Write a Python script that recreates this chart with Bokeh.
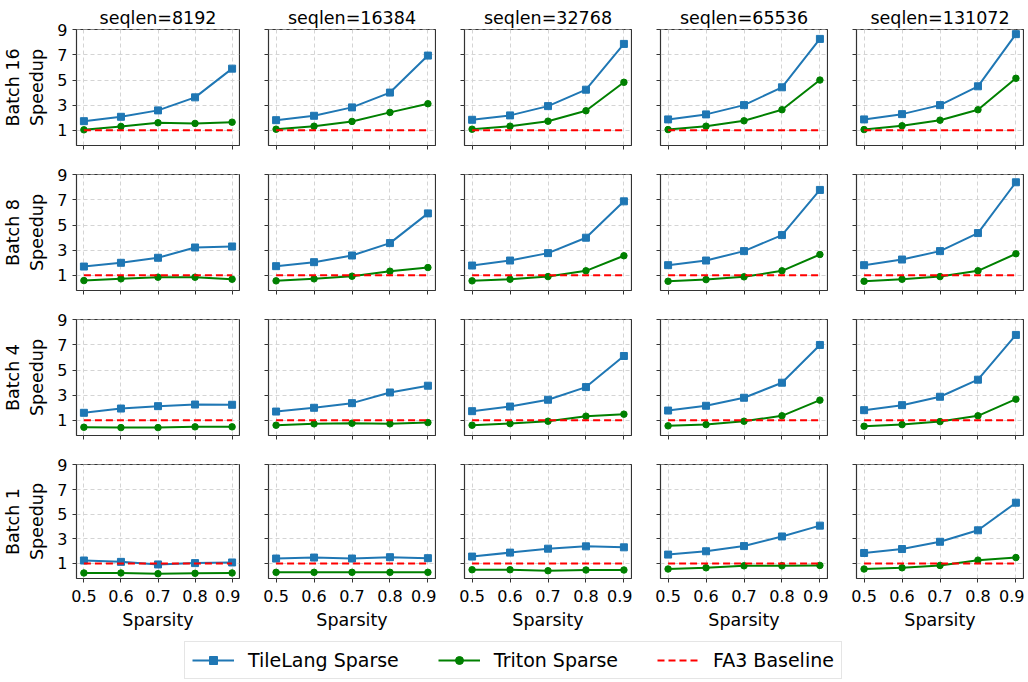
from bokeh.plotting import figure
from bokeh.layouts import column, row
from bokeh.models import (FixedTicker, CustomJSTickFormatter, Range1d, Legend,
                          LegendItem, ColumnDataSource)
from bokeh.embed import file_html
from bokeh.resources import INLINE

# ---------------- data ----------------
sparsity = [0.5, 0.6, 0.7, 0.8, 0.9]
seqlens = [8192, 16384, 32768, 65536, 131072]
batches = [16, 8, 4, 1]
fa3_baseline = [1.0, 1.0, 1.0, 1.0, 1.0]

# one list per seqlen (8192 ... 131072)
tilelang_b16 = [[1.72, 2.07, 2.58, 3.62, 5.91], [1.80, 2.15, 2.82, 4.00, 6.95],
                [1.83, 2.18, 2.92, 4.23, 7.88], [1.86, 2.26, 3.00, 4.42, 8.28],
                [1.86, 2.28, 3.00, 4.50, 8.66]]
triton_b16 = [[1.03, 1.30, 1.59, 1.54, 1.64], [1.08, 1.32, 1.70, 2.42, 3.11],
              [1.08, 1.32, 1.72, 2.55, 4.82], [1.05, 1.32, 1.75, 2.63, 5.00],
              [1.05, 1.35, 1.80, 2.63, 5.14]]
tilelang_b8 = [[1.69, 1.99, 2.39, 3.21, 3.29], [1.72, 2.04, 2.57, 3.56, 5.93],
               [1.77, 2.17, 2.76, 3.99, 6.89], [1.80, 2.17, 2.92, 4.20, 7.80],
               [1.80, 2.25, 2.92, 4.36, 8.41]]
triton_b8 = [[0.57, 0.71, 0.84, 0.84, 0.68], [0.55, 0.71, 0.92, 1.32, 1.61],
             [0.55, 0.68, 0.89, 1.35, 2.55], [0.52, 0.65, 0.87, 1.35, 2.65],
             [0.52, 0.68, 0.89, 1.35, 2.71]]
tilelang_b4 = [[1.59, 1.93, 2.12, 2.25, 2.23], [1.69, 1.99, 2.36, 3.21, 3.75],
               [1.72, 2.09, 2.63, 3.64, 6.12], [1.77, 2.15, 2.79, 3.99, 7.00],
               [1.80, 2.20, 2.87, 4.23, 7.80]]
triton_b4 = [[0.44, 0.41, 0.41, 0.47, 0.47], [0.60, 0.71, 0.76, 0.71, 0.81],
             [0.60, 0.73, 0.92, 1.32, 1.48], [0.55, 0.65, 0.92, 1.35, 2.60],
             [0.52, 0.65, 0.89, 1.35, 2.68]]
tilelang_b1 = [[1.24, 1.13, 0.92, 1.03, 1.08], [1.40, 1.48, 1.40, 1.51, 1.43],
               [1.56, 1.88, 2.20, 2.39, 2.31], [1.72, 1.99, 2.41, 3.19, 4.07],
               [1.85, 2.17, 2.76, 3.69, 5.93]]
triton_b1 = [[0.23, 0.23, 0.17, 0.20, 0.23], [0.28, 0.28, 0.28, 0.28, 0.28],
             [0.49, 0.49, 0.41, 0.47, 0.47], [0.55, 0.65, 0.81, 0.81, 0.84],
             [0.55, 0.65, 0.84, 1.27, 1.48]]

tilelang_by_batch = [tilelang_b16, tilelang_b8, tilelang_b4, tilelang_b1]
triton_by_batch = [triton_b16, triton_b8, triton_b4, triton_b1]

series_names = ["TileLang Sparse", "Triton Sparse", "FA3 Baseline"]
y_ticks = [1, 3, 5, 7, 9]

# ---------------- style ----------------
FONT = "DejaVu Sans"
BLUE = "#1f77b4"
GREEN = "#008000"
RED = "#ff0000"
FRAME = "#333333"

blank = CustomJSTickFormatter(code="return '';")

rows = []
for r, b in enumerate(batches):
    figs = []
    for c, s in enumerate(seqlens):
        first_col = c == 0
        first_row = r == 0
        last_row = r == len(batches) - 1
        left = 72 if first_col else 28
        width = left + 167 + 1
        top = 29 if first_row else 9
        bottom = 52 if last_row else 20
        height = top + 116 + bottom
        kw = {}
        if first_row:
            kw["title"] = f"seqlen={s}"
        p = figure(width=width, height=height,
                   x_range=Range1d(0.48, 0.92), y_range=Range1d(-0.22, 9.03),
                   output_backend="svg", toolbar_location=None,
                   min_border_left=left, min_border_right=1,
                   min_border_top=top, min_border_bottom=bottom, **kw)
        if first_row:
            p.title.align = "center"
            p.title.text_font = FONT
            p.title.text_font_size = "17.5px"
            p.title.text_font_style = "normal"
            p.title.text_color = "black"
            p.title.standoff = 4
        p.background_fill_color = "white"
        p.border_fill_color = "white"
        p.outline_line_color = FRAME
        p.outline_line_width = 1.2

        p.xaxis.ticker = FixedTicker(ticks=sparsity)
        p.yaxis.ticker = FixedTicker(ticks=y_ticks)
        for ax in (p.xaxis[0], p.yaxis[0]):
            ax.axis_line_color = None
            ax.major_tick_line_color = FRAME
            ax.major_tick_out = 4
            ax.major_tick_in = 0
            ax.minor_tick_line_color = None
            ax.major_label_text_font = FONT
            ax.major_label_text_font_size = "16px"
            ax.major_label_text_color = "black"
            ax.major_label_standoff = 5
            ax.axis_label_text_font = FONT
            ax.axis_label_text_font_size = "17.5px"
            ax.axis_label_text_font_style = "normal"
            ax.axis_label_text_color = "black"
        if not first_col:
            p.yaxis.formatter = blank
        else:
            p.yaxis.axis_label = f"Batch {b}\nSpeedup"
            p.yaxis.axis_label_standoff = 7
        if not last_row:
            p.xaxis.formatter = blank
        else:
            p.xaxis.axis_label = "Sparsity"
            p.xaxis.major_label_standoff = 7
            p.xaxis.axis_label_standoff = 5

        p.grid.grid_line_color = "#d4d4d4"
        p.grid.grid_line_dash = "4 3"
        p.grid.grid_line_width = 1

        src = ColumnDataSource(dict(x=sparsity,
                                    tl=tilelang_by_batch[r][c],
                                    tr=triton_by_batch[r][c],
                                    fa=fa3_baseline))
        p.line("x", "tl", source=src, line_color=BLUE, line_width=2)
        p.scatter("x", "tl", source=src, marker="square", size=7,
                  fill_color=BLUE, line_color=BLUE)
        p.line("x", "tr", source=src, line_color=GREEN, line_width=2)
        p.scatter("x", "tr", source=src, marker="circle", size=6.5,
                  fill_color=GREEN, line_color=GREEN)
        p.line("x", "fa", source=src, line_color=RED, line_width=2,
               line_dash="7 4")
        figs.append(p)
    rows.append(row(*figs, spacing=0))

# ---------------- legend ----------------
lf = figure(width=1028, height=50, x_range=Range1d(0, 1), y_range=Range1d(0, 1),
            output_backend="svg", toolbar_location=None,
            min_border_left=0, min_border_right=0, min_border_top=0,
            min_border_bottom=0)
lf.axis.visible = False
lf.grid.visible = False
lf.outline_line_color = None
nan = float("nan")
hidden = ColumnDataSource(dict(x=[nan], y=[nan]))
l1 = lf.line("x", "y", source=hidden, line_color=BLUE, line_width=2)
m1 = lf.scatter("x", "y", source=hidden, marker="square", size=6,
                fill_color=BLUE, line_color=BLUE)
l2 = lf.line("x", "y", source=hidden, line_color=GREEN, line_width=2)
m2 = lf.scatter("x", "y", source=hidden, marker="circle", size=5,
                fill_color=GREEN, line_color=GREEN)
l3 = lf.line("x", "y", source=hidden, line_color=RED, line_width=2,
             line_dash="7 4")
legend = Legend(items=[LegendItem(label=series_names[0], renderers=[l1, m1]),
                       LegendItem(label=series_names[1], renderers=[l2, m2]),
                       LegendItem(label=series_names[2], renderers=[l3])],
                orientation="horizontal", location=(184, 3),
                glyph_width=42, glyph_height=20, label_height=20,
                label_standoff=14, spacing=39, padding=7, margin=0,
                label_text_font=FONT, label_text_font_size="19px",
                label_text_color="black",
                border_line_color="#cccccc", border_line_width=1,
                background_fill_color="white", background_fill_alpha=1)
lf.add_layout(legend, "center")

layout = column(*rows, lf, spacing=0)
open("out.html", "w").write(file_html(layout, INLINE))
